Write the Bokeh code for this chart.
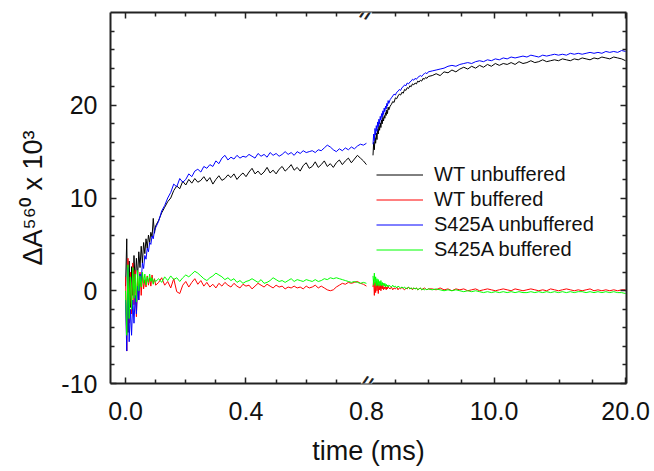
import numpy as np
from bokeh.plotting import figure
from bokeh.models import (Range1d, LinearAxis, FixedTicker, NumeralTickFormatter,
                          Legend, LegendItem, Label)
from bokeh.embed import file_html
from bokeh.resources import INLINE

# ---------------- data ----------------
# time grid of the first (fast) segment, ms
t_left = np.round(np.concatenate([np.arange(0.0, 0.1001, 0.004),
                                  np.arange(0.11, 0.8001, 0.01)]), 3)
# time grid of the second (slow) segment, ms
t_right = np.round(np.concatenate([np.arange(0.8, 2.0001, 0.05),
                                   np.arange(2.1, 5.0001, 0.1),
                                   np.arange(5.3, 20.0001, 0.3)]), 3)

wt_unbuf_left = [
    0.5, 5.6, -4.5, 3.2, -1.8, 2.6, -0.5, 3.8, 0.8, 3.5, 1.5, 4.2, 2.5,
    4.8, 3.0, 5.2, 4.0, 5.6, 4.6, 6.0, 5.2, 6.3, 5.8, 7.8, 6.2, 7.0,
    7.6, 8.4, 9.0, 9.6, 10.0, 10.8, 11.3, 11.0, 11.8, 11.4,
    12.0, 11.6, 12.1, 11.7, 11.9, 12.3, 11.8, 12.2, 11.5, 12.0,
    12.4, 11.9, 12.1, 12.5, 12.2, 12.6, 12.0, 12.4, 12.7, 12.3,
    12.8, 13.2, 12.6, 12.9, 12.5, 12.8, 13.3, 12.7, 13.0, 12.6,
    13.1, 13.4, 12.9, 13.2, 13.6, 13.0, 13.3, 12.9, 13.5, 13.8,
    13.2, 13.4, 13.9, 13.3, 13.6, 14.0, 13.4, 13.7, 13.3, 13.8,
    14.1, 13.6, 14.0, 14.3, 13.8, 14.2, 14.6, 14.3, 14.0, 13.6]
wt_buf_left = [
    1.5, -6.5, 3.5, -3.5, 2.0, -2.5, 3.0, -1.5, 2.2, -2.8, 1.5, -1.0, 2.0,
    -0.5, 1.8, 0.2, 1.2, 0.4, 1.6, 0.6, 1.4, 0.5, 1.7, 0.8, 1.3, 0.6,
    0.9, 1.4, 0.6, 1.0, 0.3, 1.3, -0.1, -0.3, 0.6, 1.0,
    0.4, 0.9, 1.3, 0.7, 1.1, 0.5, 0.9, 0.4, 0.7, 0.3,
    0.8, 0.5, 0.9, 0.6, 0.4, 0.8, 0.5, 0.3, 0.7, 0.5,
    0.6, 0.2, 0.5, 0.8, 0.6, 0.4, 0.7, 0.5, 0.3, 0.6,
    0.4, 0.5, 0.2, 0.4, 0.3, 0.5, 0.3, 0.4, 0.2, 0.5,
    0.3, 0.4, 0.6, 0.3, 0.5, 0.3, 0.1, 0.0, 0.1, 0.4,
    0.6, 0.8, 0.7, 0.9, 0.8, 0.9, 1.0, 0.8, 0.7, 0.5]
s425a_unbuf_left = [
    -1.0, -6.5, 2.5, -5.5, -2.0, -4.8, -1.0, -3.5, -0.5, -2.5, 0.5, -1.0, 1.8,
    1.0, 3.0, 2.4, 3.8, 3.4, 4.6, 4.2, 5.2, 5.0, 5.9, 5.6, 6.5, 6.8,
    7.5, 8.6, 9.2, 10.0, 10.6, 11.5, 11.2, 12.1, 11.7, 12.0,
    12.6, 12.3, 12.9, 13.1, 12.8, 13.4, 13.2, 13.6, 13.4, 14.0,
    13.7, 14.3, 14.6, 14.1, 14.4, 14.2, 14.6, 14.3, 14.5, 14.4,
    14.7, 14.5, 14.3, 14.8, 14.5, 14.7, 14.4, 14.9, 14.6, 14.8,
    14.5, 14.7, 15.0, 14.7, 14.9, 14.6, 15.0, 14.8, 15.1, 14.9,
    15.0, 15.1, 14.9, 15.2, 15.1, 15.4, 15.7, 15.5, 15.2, 15.0,
    15.3, 15.1, 15.4, 15.2, 15.5, 15.3, 15.6, 15.8, 15.7, 15.9]
s425a_buf_left = [
    0.0, -4.8, 2.8, -3.0, 1.5, -2.0, 2.5, -0.8, 1.8, -1.2, 2.2, 0.0, 1.6,
    0.4, 2.0, 0.8, 1.8, 0.6, 1.5, 0.9, 1.8, 1.0, 1.4, 0.7, 1.2, 1.0,
    1.3, 0.9, 1.5, 1.1, 1.6, 1.2, 1.4, 1.0, 1.4, 1.7,
    1.5, 1.8, 2.1, 1.9, 1.6, 1.3, 1.1, 1.4, 1.6, 1.9,
    1.7, 1.5, 1.2, 1.4, 1.1, 1.3, 0.9, 1.1, 0.8, 1.0,
    1.1, 1.3, 1.1, 0.9, 1.2, 0.8, 0.9, 1.1, 1.4, 1.2,
    1.0, 1.1, 0.9, 1.1, 1.3, 1.0, 1.2, 1.1, 1.0, 1.2,
    1.1, 1.0, 1.2, 1.0, 1.1, 1.3, 1.2, 1.4, 1.3, 1.4,
    1.3, 1.2, 1.1, 1.0, 0.9, 1.0, 0.9, 0.8, 0.9, 0.8]

wt_unbuf_right = [
    14.6, 16.0, 15.2, 16.5, 15.9, 17.0, 16.3, 17.4, 16.9, 17.8, 17.3, 18.1, 17.6,
    18.4, 18.0, 18.7, 18.3, 18.9, 18.6, 19.2, 18.9, 19.5, 19.1, 19.8, 19.5,
    19.9, 20.1, 20.4, 20.3, 20.8, 20.7, 21.0, 21.2, 21.1, 21.4,
    21.3, 21.7, 21.6, 21.9, 21.8, 22.1, 22.0, 22.3, 22.2, 22.4,
    22.3, 22.6, 22.5, 22.7, 22.6, 22.9, 22.8, 23.0, 22.9, 23.1,
    23.2, 23.4, 23.2, 23.6, 23.5, 23.8, 23.6, 23.9, 24.1, 23.9,
    24.2, 24.0, 24.3, 24.1, 24.4, 24.2, 24.5, 24.3, 24.5, 24.4,
    24.6, 24.4, 24.7, 24.5, 24.6, 24.8, 24.6, 24.7, 24.9, 24.7,
    24.8, 24.9, 24.8, 25.0, 24.9, 24.8, 25.0, 24.9, 25.1, 25.0,
    24.9, 25.1, 25.0, 25.2, 25.1, 25.0, 25.2, 25.1, 25.0, 24.8]
wt_buf_right = [
    0.4, 1.2, -0.5, 0.9, -0.2, 1.0, 0.0, 0.8, -0.3, 0.7, 0.1, 0.6, 0.0,
    0.5, 0.2, 0.6, 0.1, 0.4, 0.2, 0.5, 0.1, 0.4, 0.2, 0.5, 0.3,
    0.2, 0.4, 0.1, 0.3, 0.2, 0.4, 0.1, 0.3, 0.2, 0.4,
    0.2, 0.1, 0.3, 0.2, 0.4, 0.2, 0.3, 0.1, 0.3, 0.2,
    0.3, 0.1, 0.2, 0.3, 0.1, 0.2, 0.3, 0.2, 0.1, 0.2,
    0.2, 0.1, 0.3, 0.1, 0.2, 0.0, 0.2, 0.1, 0.2, 0.0,
    0.1, 0.2, 0.0, 0.1, 0.2, 0.1, 0.0, 0.1, 0.2, 0.1,
    0.0, 0.2, 0.1, 0.0, 0.1, 0.2, 0.1, 0.0, 0.1, 0.0,
    0.2, 0.1, 0.0, 0.1, 0.2, 0.1, 0.0, 0.1, 0.0, 0.1,
    0.2, 0.0, 0.1, 0.0, 0.1, 0.0, 0.1, 0.0, 0.1, 0.1]
s425a_unbuf_right = [
    15.8, 16.9, 16.2, 17.5, 16.8, 17.8, 17.2, 18.2, 17.7, 18.5, 18.0, 18.8, 18.4,
    19.1, 18.7, 19.4, 19.0, 19.7, 19.3, 19.9, 19.6, 20.2, 19.9, 20.5, 20.2,
    20.6, 20.8, 21.0, 21.2, 21.1, 21.4, 21.5, 21.7, 21.6, 21.9,
    22.0, 22.2, 22.1, 22.4, 22.3, 22.5, 22.6, 22.8, 22.7, 22.9,
    22.8, 23.0, 23.1, 23.2, 23.1, 23.3, 23.4, 23.5, 23.4, 23.6,
    23.7, 23.8, 23.9, 24.0, 24.2, 24.3, 24.2, 24.4, 24.5, 24.6,
    24.5, 24.7, 24.8, 24.7, 24.9, 24.8, 25.0, 24.9, 25.1, 25.0,
    25.2, 25.1, 25.2, 25.3, 25.2, 25.4, 25.3, 25.2, 25.4, 25.3,
    25.4, 25.5, 25.4, 25.5, 25.4, 25.6, 25.5, 25.6, 25.5, 25.6,
    25.7, 25.6, 25.7, 25.6, 25.8, 25.7, 25.8, 25.7, 25.9, 25.8]
s425a_buf_right = [
    1.6, 0.6, 1.9, 0.8, 1.5, 0.5, 1.3, 0.6, 1.2, 0.5, 1.0, 0.6, 1.1,
    0.5, 0.9, 0.6, 0.8, 0.5, 0.8, 0.4, 0.7, 0.5, 0.6, 0.4, 0.6,
    0.5, 0.4, 0.6, 0.4, 0.5, 0.3, 0.5, 0.4, 0.3, 0.4,
    0.3, 0.4, 0.2, 0.3, 0.4, 0.2, 0.3, 0.2, 0.3, 0.2,
    0.3, 0.1, 0.2, 0.3, 0.1, 0.2, 0.1, 0.2, 0.1, 0.2,
    0.1, 0.2, 0.1, 0.0, 0.1, 0.0, 0.1, 0.0, -0.1, 0.0,
    -0.1, 0.0, -0.1, -0.2, -0.1, -0.2, -0.1, -0.2, -0.1, -0.2,
    -0.1, -0.2, -0.1, -0.2, -0.2, -0.1, -0.2, -0.1, -0.2, -0.1,
    -0.2, -0.1, -0.2, -0.1, -0.2, -0.1, -0.2, -0.1, -0.1, -0.2,
    -0.1, -0.2, -0.1, -0.2, -0.1, -0.2, -0.1, -0.2, -0.2, -0.3]

series_names = ["WT unbuffered", "WT buffered", "S425A unbuffered", "S425A buffered"]
series_colors = ["#000000", "#ff0000", "#0000ff", "#00ff00"]
left_values = [wt_unbuf_left, wt_buf_left, s425a_unbuf_left, s425a_buf_left]
right_values = [wt_unbuf_right, wt_buf_right, s425a_unbuf_right, s425a_buf_right]

left_major = [0.0, 0.4, 0.8]
left_minor = [0.1, 0.2, 0.3, 0.5, 0.6, 0.7]
right_major = [10.0, 20.0]
right_minor = [2.5, 5.0, 7.5, 12.5, 15.0, 17.5]
y_major = [-10, 0, 10, 20]
y_minor = [-8, -6, -4, -2, 2, 4, 6, 8, 12, 14, 16, 18, 22, 24, 26, 28]

# ---------------- broken-axis scales ----------------
X_LEFT = (-0.05, 0.8)      # fast segment, ms
X_RIGHT = (0.3, 20.07)     # slow segment, ms
LEFT_SHARE = 0.496         # share of the frame width given to the fast segment
Y_RANGE = (-10, 30)

parent_end = X_LEFT[0] + (X_LEFT[1] - X_LEFT[0]) / LEFT_SHARE
right_start = X_RIGHT[1] - (X_RIGHT[1] - X_RIGHT[0]) / (1 - LEFT_SHARE)


def on_main(t):
    # position of a slow-segment time on the main x range (for tick marks only)
    return X_LEFT[0] + (t - right_start) / (X_RIGHT[1] - right_start) * (parent_end - X_LEFT[0])


FONT = "Liberation Sans"
TXT = "#111111"

p = figure(width=652, height=469, toolbar_location=None, output_backend="svg",
           x_range=Range1d(X_LEFT[0], parent_end), y_range=Range1d(*Y_RANGE),
           min_border_left=110, min_border_right=26, min_border_top=12,
           min_border_bottom=86)
p.extra_x_ranges = {"slow": Range1d(right_start, X_RIGHT[1])}
p.xgrid.visible = False
p.ygrid.visible = False
p.outline_line_color = None

renderers = []
for vals_l, vals_r, col in zip(left_values, right_values, series_colors):
    r = p.line(t_left, vals_l, line_color=col, line_width=1)
    p.line(t_right, vals_r, line_color=col, line_width=1, x_range_name="slow")
    renderers.append(r)

x_major = left_major + [on_main(v) for v in right_major]
x_minor = left_minor + [on_main(v) for v in right_minor]
overrides = {on_main(v): f"{v:.1f}" for v in right_major}


def style_axis(ax, labels=True):
    ax.axis_line_width = 2
    ax.axis_line_color = "#222222"
    ax.major_tick_line_width = 1.5
    ax.minor_tick_line_width = 1.5
    ax.major_tick_line_color = "#222222"
    ax.minor_tick_line_color = "#222222"
    ax.major_tick_in = 6
    ax.major_tick_out = 0
    ax.minor_tick_in = 4
    ax.minor_tick_out = 0
    if labels:
        ax.major_label_text_font = FONT
        ax.major_label_text_font_size = "25px"
        ax.major_label_text_color = TXT
        ax.axis_label_text_font = FONT
        ax.axis_label_text_font_size = "27px"
        ax.axis_label_text_font_style = "normal"
        ax.axis_label_text_color = TXT
    else:
        ax.major_label_text_font_size = "0px"
        ax.major_label_text_color = None
        ax.major_label_standoff = 0


xa = p.xaxis[0]
xa.ticker = FixedTicker(ticks=x_major, minor_ticks=x_minor)
xa.formatter = NumeralTickFormatter(format="0.0")
xa.major_label_overrides = overrides
xa.axis_label = "time (ms)"
style_axis(xa)
xa.major_label_standoff = 18
xa.axis_label_standoff = 13

ya = p.yaxis[0]
ya.ticker = FixedTicker(ticks=y_major, minor_ticks=y_minor)
ya.formatter = NumeralTickFormatter(format="0")
ya.axis_label = "ΔA⁵⁶⁰ x 10³"
style_axis(ya)
ya.major_label_standoff = 13
ya.axis_label_standoff = 10

top = LinearAxis(ticker=FixedTicker(ticks=x_major, minor_ticks=x_minor))
style_axis(top, labels=False)
p.add_layout(top, "above")

right = LinearAxis(ticker=FixedTicker(ticks=y_major, minor_ticks=y_minor))
style_axis(right, labels=False)
p.add_layout(right, "right")

# axis-break marks
for yb in Y_RANGE:
    p.add_layout(Label(x=X_LEFT[1], y=yb, text="//", text_align="center",
                       text_baseline="middle", text_font=FONT,
                       text_font_size="19px", text_font_style="bold",
                       angle=-0.4, text_color="#222222",
                       background_fill_color="white"))

legend = Legend(items=[LegendItem(label=n, renderers=[r])
                       for n, r in zip(series_names, renderers)],
                location=(266, 122), glyph_width=47, glyph_height=23,
                label_height=23, spacing=2, padding=0, margin=0,
                label_standoff=11, label_text_font=FONT,
                label_text_font_size="20px", label_text_color=TXT,
                background_fill_alpha=0, border_line_color=None)
p.add_layout(legend)

open("out.html", "w").write(file_html(p, INLINE))
